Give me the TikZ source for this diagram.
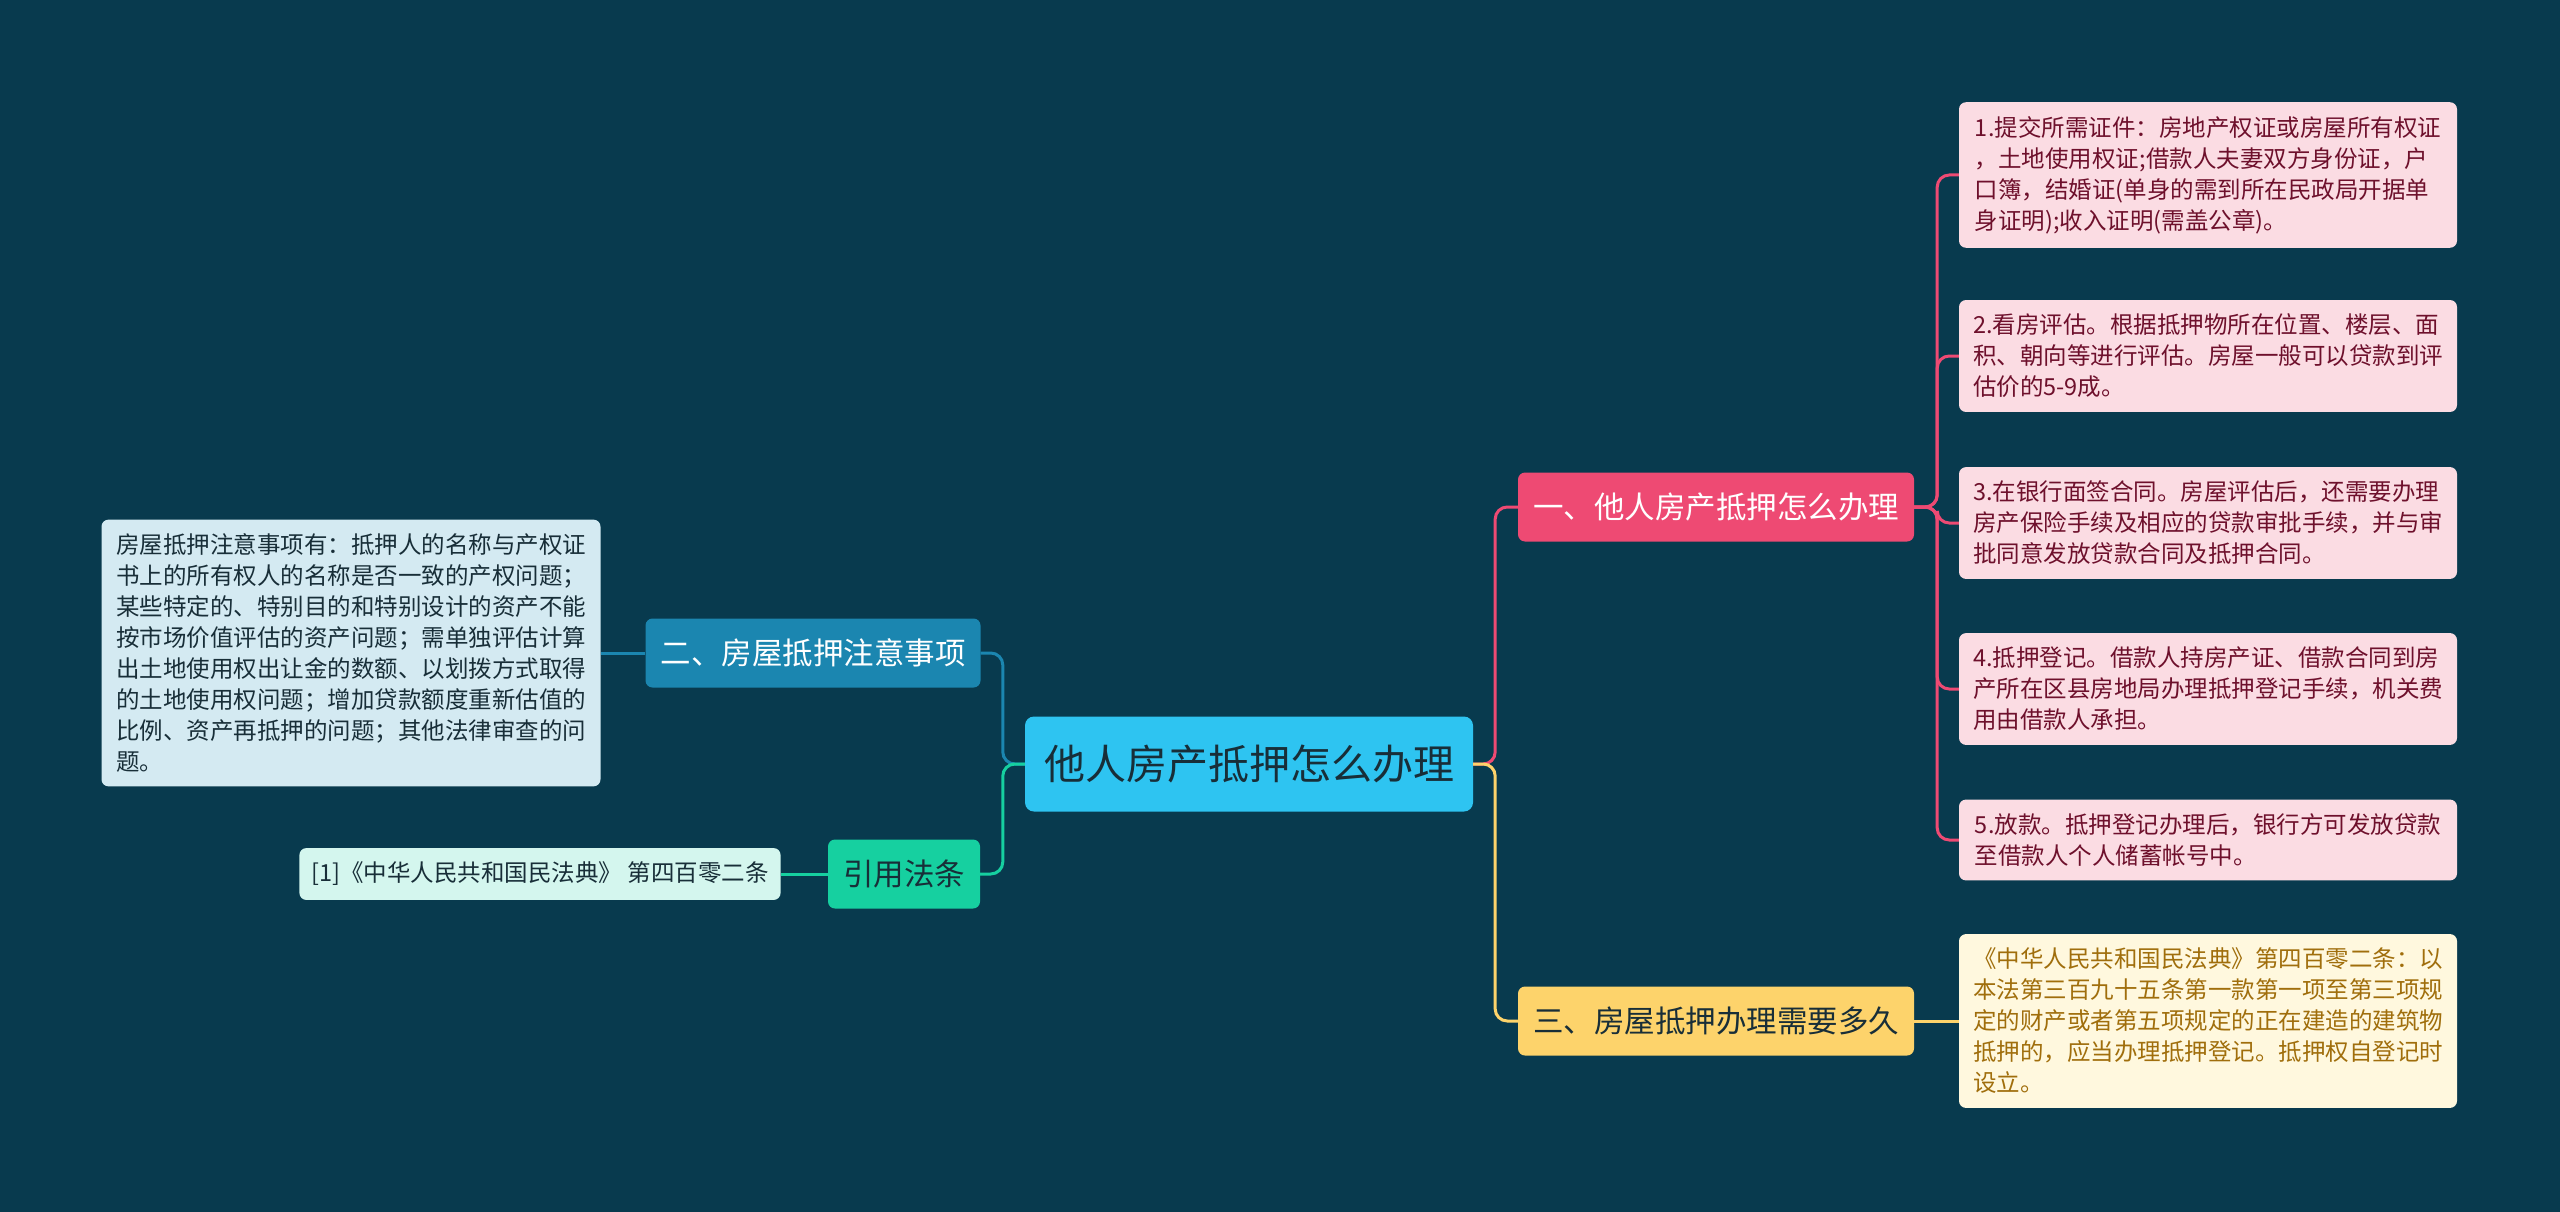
\documentclass[tikz,border=0pt]{standalone}
\usepackage{fontspec}
\setmainfont{Noto Sans CJK SC}
\usepackage{tikz}
\usetikzlibrary{positioning}
\definecolor{bgc}{RGB}{8,58,78}
\definecolor{hubc}{RGB}{46,196,241}
\definecolor{inkc}{RGB}{24,46,56}
\definecolor{redc}{RGB}{238,74,115}
\definecolor{redl}{RGB}{251,220,227}
\definecolor{redt}{RGB}{110,16,44}
\definecolor{yelc}{RGB}{253,211,107}
\definecolor{yell}{RGB}{255,248,222}
\definecolor{yelt}{RGB}{160,110,12}
\definecolor{bluc}{RGB}{27,134,176}
\definecolor{blul}{RGB}{212,234,242}
\definecolor{grnc}{RGB}{22,208,160}
\definecolor{grnl}{RGB}{212,246,238}

\begin{document}
\begin{tikzpicture}[x=1pt,y=-1pt,
  hub/.style={fill=hubc,text=inkc,rounded corners=9pt,minimum width=448pt,minimum height=95pt,font=\fontsize{41}{50}\selectfont},
  topic/.style={rounded corners=7pt,inner xsep=15pt,minimum height=69pt,font=\fontsize{30.5}{36}\selectfont},
  leaf/.style={rounded corners=7pt,align=left,inner ysep=14pt,font=\fontsize{23.5}{31}\selectfont},
  redleaf/.style={leaf,fill=redl,text=redt,minimum width=498pt},
  lnk/.style={line width=3pt,rounded corners=12pt}]
\useasboundingbox (0,0) rectangle (2560,1212);
\fill[bgc] (0,0) rectangle (2560,1212);
% --- centre and main branches ---
\node[hub] (hub) at (1249,764) {他人房产抵押怎么办理};
\node[topic,fill=redc,text=white] (b1) at (1716,507) {一、他人房产抵押怎么办理};
\node[topic,fill=yelc,text=inkc] (b3) at (1716,1021) {三、房屋抵押办理需要多久};
\node[topic,fill=bluc,text=white] (b2) at (813,653) {二、房屋抵押注意事项};
\node[topic,fill=grnc,text=inkc] (cite) at (904,874) {引用法条};
% --- right leaves: steps ---
\node[redleaf] (l1) at (2208,175) {1.提交所需证件：房地产权证或房屋所有权证\\，土地使用权证;借款人夫妻双方身份证，户\\口簿，结婚证(单身的需到所在民政局开据单\\身证明);收入证明(需盖公章)。};
\node[redleaf] (l2) at (2208,356) {2.看房评估。根据抵押物所在位置、楼层、面\\积、朝向等进行评估。房屋一般可以贷款到评\\估价的5-9成。};
\node[redleaf] (l3) at (2208,523) {3.在银行面签合同。房屋评估后，还需要办理\\房产保险手续及相应的贷款审批手续，并与审\\批同意发放贷款合同及抵押合同。};
\node[redleaf] (l4) at (2208,689) {4.抵押登记。借款人持房产证、借款合同到房\\产所在区县房地局办理抵押登记手续，机关费\\用由借款人承担。};
\node[redleaf] (l5) at (2208,840) {5.放款。抵押登记办理后，银行方可发放贷款\\至借款人个人储蓄帐号中。};
\node[leaf,fill=yell,text=yelt,minimum width=498pt] (l6) at (2208,1021) {《中华人民共和国民法典》第四百零二条：以\\本法第三百九十五条第一款第一项至第三项规\\定的财产或者第五项规定的正在建造的建筑物\\抵押的，应当办理抵押登记。抵押权自登记时\\设立。};
% --- left leaves ---
\node[leaf,fill=blul,text=inkc,minimum width=499pt] (b2leaf) at (351,653) {房屋抵押注意事项有：抵押人的名称与产权证\\书上的所有权人的名称是否一致的产权问题；\\某些特定的、特别目的和特别设计的资产不能\\按市场价值评估的资产问题；需单独评估计算\\出土地使用权出让金的数额、以划拨方式取得\\的土地使用权问题；增加贷款额度重新估值的\\比例、资产再抵押的问题；其他法律审查的问\\题。};
\node[leaf,fill=grnl,text=inkc,inner xsep=12pt] (citeleaf) at (540,874) {[1]《中华人民共和国民法典》 第四百零二条};
% --- connectors ---
\draw[lnk,redc] (hub.east) -- ++(22,0) |- (b1.west);
\draw[lnk,yelc] (hub.east) -- ++(22,0) |- (b3.west);
\draw[lnk,bluc] (hub.west) -- ++(-22,0) |- (b2.east);
\draw[lnk,grnc] (hub.west) -- ++(-22,0) |- (cite.east);
\foreach \i in {1,...,5}
  \draw[lnk,redc] (b1.east) -- ++(23,0) |- (l\i.west);
\draw[lnk,yelc] (b3.east) -- (l6.west);
\draw[lnk,bluc] (b2.west) -- (b2leaf.east);
\draw[lnk,grnc] (cite.west) -- (citeleaf.east);
\end{tikzpicture}
\end{document}
